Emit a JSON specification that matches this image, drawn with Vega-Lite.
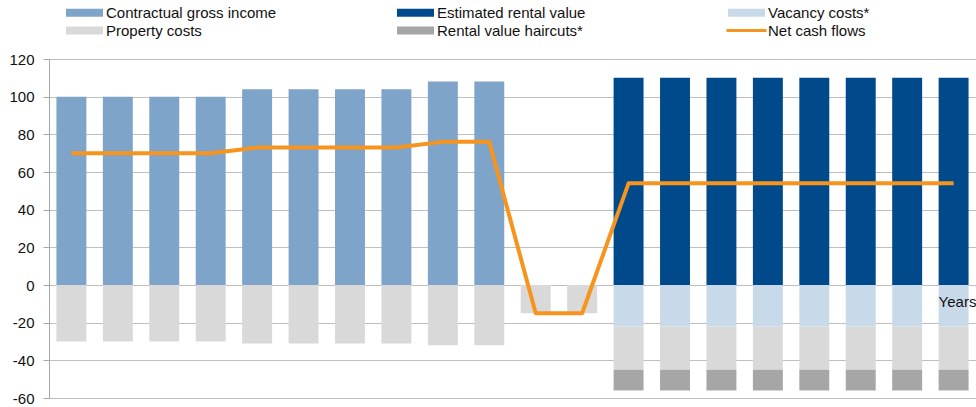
{
  "$schema": "https://vega.github.io/schema/vega-lite/v6.json",
  "width": 927,
  "height": 339,
  "autosize": {"type": "none"},
  "padding": {"left": 49, "top": 59, "right": 0, "bottom": 9},
  "config": {
    "view": {"stroke": null},
    "font": "Liberation Sans",
    "axis": {"labelFont": "Liberation Sans"},
    "legend": {"labelFont": "Liberation Sans"}
  },
  "datasets": {
    "bars": [
      {"year": 1, "series": "Contractual gross income", "value": 100, "rank": 1},
      {"year": 2, "series": "Contractual gross income", "value": 100, "rank": 1},
      {"year": 3, "series": "Contractual gross income", "value": 100, "rank": 1},
      {"year": 4, "series": "Contractual gross income", "value": 100, "rank": 1},
      {"year": 5, "series": "Contractual gross income", "value": 104, "rank": 1},
      {"year": 6, "series": "Contractual gross income", "value": 104, "rank": 1},
      {"year": 7, "series": "Contractual gross income", "value": 104, "rank": 1},
      {"year": 8, "series": "Contractual gross income", "value": 104, "rank": 1},
      {"year": 9, "series": "Contractual gross income", "value": 108, "rank": 1},
      {"year": 10, "series": "Contractual gross income", "value": 108, "rank": 1},
      {"year": 1, "series": "Property costs", "value": -30, "rank": 2},
      {"year": 2, "series": "Property costs", "value": -30, "rank": 2},
      {"year": 3, "series": "Property costs", "value": -30, "rank": 2},
      {"year": 4, "series": "Property costs", "value": -30, "rank": 2},
      {"year": 5, "series": "Property costs", "value": -31, "rank": 2},
      {"year": 6, "series": "Property costs", "value": -31, "rank": 2},
      {"year": 7, "series": "Property costs", "value": -31, "rank": 2},
      {"year": 8, "series": "Property costs", "value": -31, "rank": 2},
      {"year": 9, "series": "Property costs", "value": -32, "rank": 2},
      {"year": 10, "series": "Property costs", "value": -32, "rank": 2},
      {"year": 11, "series": "Property costs", "value": -15, "rank": 2},
      {"year": 12, "series": "Property costs", "value": -15, "rank": 2},
      {"year": 13, "series": "Estimated rental value", "value": 110, "rank": 1},
      {"year": 14, "series": "Estimated rental value", "value": 110, "rank": 1},
      {"year": 15, "series": "Estimated rental value", "value": 110, "rank": 1},
      {"year": 16, "series": "Estimated rental value", "value": 110, "rank": 1},
      {"year": 17, "series": "Estimated rental value", "value": 110, "rank": 1},
      {"year": 18, "series": "Estimated rental value", "value": 110, "rank": 1},
      {"year": 19, "series": "Estimated rental value", "value": 110, "rank": 1},
      {"year": 20, "series": "Estimated rental value", "value": 110, "rank": 1},
      {"year": 13, "series": "Vacancy costs*", "value": -22, "rank": 1},
      {"year": 14, "series": "Vacancy costs*", "value": -22, "rank": 1},
      {"year": 15, "series": "Vacancy costs*", "value": -22, "rank": 1},
      {"year": 16, "series": "Vacancy costs*", "value": -22, "rank": 1},
      {"year": 17, "series": "Vacancy costs*", "value": -22, "rank": 1},
      {"year": 18, "series": "Vacancy costs*", "value": -22, "rank": 1},
      {"year": 19, "series": "Vacancy costs*", "value": -22, "rank": 1},
      {"year": 20, "series": "Vacancy costs*", "value": -22, "rank": 1},
      {"year": 13, "series": "Property costs", "value": -23, "rank": 2},
      {"year": 14, "series": "Property costs", "value": -23, "rank": 2},
      {"year": 15, "series": "Property costs", "value": -23, "rank": 2},
      {"year": 16, "series": "Property costs", "value": -23, "rank": 2},
      {"year": 17, "series": "Property costs", "value": -23, "rank": 2},
      {"year": 18, "series": "Property costs", "value": -23, "rank": 2},
      {"year": 19, "series": "Property costs", "value": -23, "rank": 2},
      {"year": 20, "series": "Property costs", "value": -23, "rank": 2},
      {"year": 13, "series": "Rental value haircuts*", "value": -11, "rank": 3},
      {"year": 14, "series": "Rental value haircuts*", "value": -11, "rank": 3},
      {"year": 15, "series": "Rental value haircuts*", "value": -11, "rank": 3},
      {"year": 16, "series": "Rental value haircuts*", "value": -11, "rank": 3},
      {"year": 17, "series": "Rental value haircuts*", "value": -11, "rank": 3},
      {"year": 18, "series": "Rental value haircuts*", "value": -11, "rank": 3},
      {"year": 19, "series": "Rental value haircuts*", "value": -11, "rank": 3},
      {"year": 20, "series": "Rental value haircuts*", "value": -11, "rank": 3}
    ],
    "line": [
      {"year": 1, "series": "Net cash flows", "value": 70},
      {"year": 2, "series": "Net cash flows", "value": 70},
      {"year": 3, "series": "Net cash flows", "value": 70},
      {"year": 4, "series": "Net cash flows", "value": 70},
      {"year": 5, "series": "Net cash flows", "value": 73},
      {"year": 6, "series": "Net cash flows", "value": 73},
      {"year": 7, "series": "Net cash flows", "value": 73},
      {"year": 8, "series": "Net cash flows", "value": 73},
      {"year": 9, "series": "Net cash flows", "value": 76},
      {"year": 10, "series": "Net cash flows", "value": 76},
      {"year": 11, "series": "Net cash flows", "value": -15},
      {"year": 12, "series": "Net cash flows", "value": -15},
      {"year": 13, "series": "Net cash flows", "value": 54},
      {"year": 14, "series": "Net cash flows", "value": 54},
      {"year": 15, "series": "Net cash flows", "value": 54},
      {"year": 16, "series": "Net cash flows", "value": 54},
      {"year": 17, "series": "Net cash flows", "value": 54},
      {"year": 18, "series": "Net cash flows", "value": 54},
      {"year": 19, "series": "Net cash flows", "value": 54},
      {"year": 20, "series": "Net cash flows", "value": 54}
    ],
    "label": [
      {"year": 20, "value": 0, "text": "Years"}
    ]
  },
  "layer": [
    {
      "data": {"name": "bars"},
      "mark": {"type": "bar"},
      "encoding": {
        "x": {
          "field": "year", "type": "ordinal", "axis": null,
          "scale": {"paddingInner": 0.355, "paddingOuter": 0.16}
        },
        "y": {
          "field": "value", "type": "quantitative", "stack": "zero",
          "scale": {"domain": [-60, 120], "nice": false, "zero": false},
          "axis": {
            "title": null,
            "values": [-60, -40, -20, 0, 20, 40, 60, 80, 100, 120],
            "tickCount": 20,
            "labelExpr": "'' + datum.value",
            "labelOverlap": false,
            "labelBound": false,
            "grid": true, "gridColor": "#bfbfbf", "gridWidth": 1,
            "domainColor": "#a6a6a6", "domainWidth": 1,
            "tickColor": "#a6a6a6", "tickSize": 6, "tickWidth": 1,
            "labelFontSize": 15, "labelColor": "#111111", "labelPadding": 9
          }
        },
        "order": {"field": "rank", "type": "quantitative"},
        "color": {
          "field": "series", "type": "nominal",
          "scale": {
            "domain": ["Contractual gross income", "Estimated rental value", "Vacancy costs*", "Property costs", "Rental value haircuts*", "Net cash flows"],
            "range": ["#7ea5c9", "#004a8b", "#c8dae9", "#d9d9d9", "#a6a6a6", "#f7941d"]
          },
          "legend": {
            "title": null,
            "orient": "none",
            "direction": "horizontal",
            "legendX": 28,
            "legendY": -54,
            "columns": 3,
            "gridAlign": "all",
            "columnPadding": 118,
            "rowPadding": 2,
            "labelFontSize": 15,
            "labelColor": "#111111",
            "labelOffset": 14,
            "labelLimit": 400,
            "symbolSize": 64,
            "symbolType": "M-4.625,-1H4.625V1H-4.625Z",
            "symbolStrokeWidth": 0,
            "encode": {
              "symbols": {
                "update": {
                  "shape": {"signal": "datum.label === 'Net cash flows' ? 'M-5,-0.375H5V0.375H-5Z' : 'M-4.625,-1H4.625V1H-4.625Z'"},
                  "fill": {"scale": "color", "field": "value"},
                  "fillOpacity": {"value": 1},
                  "strokeWidth": {"value": 0}
                }
              }
            }
          }
        }
      }
    },
    {
      "data": {"name": "line"},
      "mark": {"type": "line", "strokeWidth": 4, "strokeJoin": "round"},
      "encoding": {
        "x": {"field": "year", "type": "ordinal"},
        "y": {"field": "value", "type": "quantitative"},
        "color": {"field": "series", "type": "nominal"}
      }
    },
    {
      "data": {"name": "label"},
      "mark": {"type": "text", "align": "left", "baseline": "alphabetic", "dx": -15, "dy": 22, "fontSize": 15, "color": "#111111", "font": "Liberation Sans"},
      "encoding": {
        "x": {"field": "year", "type": "ordinal"},
        "y": {"field": "value", "type": "quantitative"},
        "text": {"field": "text"}
      }
    }
  ]
}
